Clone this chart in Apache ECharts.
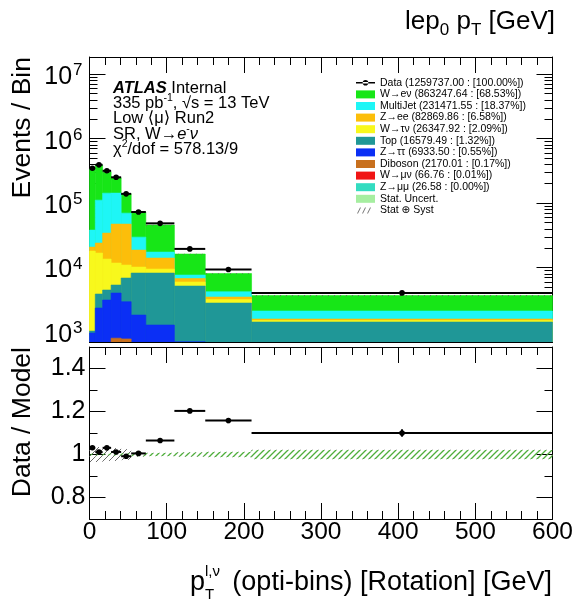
<!DOCTYPE html>
<html>
<head>
<meta charset="utf-8">
<script src="https://cdn.jsdelivr.net/npm/echarts@6/dist/echarts.min.js"></script>
<style>
  html, body { margin: 0; padding: 0; background: #fff; }
  #chart { width: 580px; height: 602px; }
</style>
</head>
<body>
<div id="chart"></div>
<script>
// Bin edges of the optimised lepton-neutrino pT binning [GeV]
const binEdges = [0, 7.5, 17, 28, 41, 54, 73, 110, 150, 210, 600];

// Observed events per bin
const dataEvents = [347100, 392600, 317400, 251500, 139200, 72830, 48550, 19480, 9350, 4045];

// Expected events per bin for each sample
const zmumuEvents    = [2, 3, 3, 4, 4, 3, 3, 2, 1, 1];
const wmunuEvents    = [5, 8, 9, 9, 8, 8, 8, 5, 4, 3];
const dibosonEvents  = [20, 60, 150, 790, 770, 300, 400, 200, 100, 60];
const ztautauEvents  = [938, 2285, 2972, 3221, 2167, 1523, 873, 500, 250, 150];
const topEvents      = [71, 1527, 1345, 1330, 3927, 6382, 6932, 4459, 2460, 1215];
const wtaunuEvents   = [16980, 12900, 9070, 6400, 4060, 1960, 1260, 800, 375, 79];
const zeeEvents      = [2770, 7200, 20700, 35500, 36300, 8490, 4560, 790, 298, 83];
const multijetEvents = [17350, 87300, 108600, 95700, 22700, 11000, 3350, 900, 727, 526];
const wenuEvents     = [298500, 277000, 165000, 105600, 70400, 42800, 28200, 8540, 3860, 1560];

// Relative uncertainties of the prediction
const statSystRel = [0.035, 0.035, 0.03, 0.03, 0.025, 0.01, 0.008, 0.01, 0.013, 0.022];
const statRel     = [0.004, 0.004, 0.004, 0.005, 0.006, 0.008, 0.007, 0.009, 0.012, 0.021];

// Axis tick values
const logMajorTicks   = [1e3, 1e4, 1e5, 1e6, 1e7];
const ratioMajorTicks = [0.8, 1, 1.2, 1.4];
const ratioMinorTicks = [0.9, 1.1, 1.3];

// Legend texts
const dataLabel = 'Data (1259737.00 : [100.00%])';
const statLabel = 'Stat. Uncert.';
const systLabel = 'Stat \u2295 Syst';

const FONT = "'Liberation Sans', Arial, Helvetica, 'DejaVu Sans', sans-serif";

// Stack order: bottom first
const samples = [
  { label: 'Z\u2192\u03bc\u03bc (26.58 : [0.00%])',        color: '#33dcc0', values: zmumuEvents },
  { label: 'W\u2192\u03bc\u03bd (66.76 : [0.01%])',        color: '#f01515', values: wmunuEvents },
  { label: 'Diboson (2170.01 : [0.17%])',                  color: '#c8701e', values: dibosonEvents },
  { label: 'Z\u2192\u03c4\u03c4 (6933.50 : [0.55%])',      color: '#0b2ff5', values: ztautauEvents },
  { label: 'Top (16579.49 : [1.32%])',                     color: '#1f9797', values: topEvents },
  { label: 'W\u2192\u03c4\u03bd (26347.92 : [2.09%])',     color: '#f8f81c', values: wtaunuEvents },
  { label: 'Z\u2192ee (82869.86 : [6.58%])',               color: '#fcbe0a', values: zeeEvents },
  { label: 'MultiJet (231471.55 : [18.37%])',              color: '#1ef6f6', values: multijetEvents },
  { label: 'W\u2192e\u03bd (863247.64 : [68.53%])',        color: '#17e617', values: wenuEvents }
];

const nBins = binEdges.length - 1;

// Cumulative tops of the stack
const cumTops = [];
{
  let run = new Array(nBins).fill(0);
  samples.forEach(s => {
    run = run.map((c, b) => c + s.values[b]);
    cumTops.push(run.slice());
  });
}
const mcTotal = cumTops[cumTops.length - 1];

function hatchPattern(color, step, width) {
  const c = document.createElement('canvas');
  c.width = step; c.height = step;
  const g = c.getContext('2d');
  g.strokeStyle = color;
  g.lineWidth = width;
  g.beginPath();
  g.moveTo(0, step); g.lineTo(step, 0);
  g.moveTo(-2, 2); g.lineTo(2, -2);
  g.moveTo(step - 2, step + 2); g.lineTo(step + 2, step - 2);
  g.stroke();
  return { image: c, repeat: 'repeat' };
}

// Filled bin from the axis floor up to the cumulative top
function renderStackBin(params, api) {
  const a = api.coord([api.value(0), api.value(2)]);
  const b = api.coord([api.value(1), 1]);
  const col = api.visual('color');
  return {
    type: 'rect',
    shape: { x: a[0], y: a[1], width: b[0] - a[0], height: b[1] - a[1] },
    style: { fill: col, stroke: col, lineWidth: 0.6 }
  };
}

// Band between lo and hi
function makeBandRenderer(fill) {
  return function (params, api) {
    const a = api.coord([api.value(0), api.value(3)]);
    const b = api.coord([api.value(1), api.value(2)]);
    return {
      type: 'rect',
      shape: { x: a[0], y: a[1], width: b[0] - a[0], height: Math.max(b[1] - a[1], 0.8) },
      style: { fill: fill }
    };
  };
}

// Data point with horizontal bin bar and vertical error
function renderPoint(params, api) {
  const x0 = api.value(0), x1 = api.value(1), xc = api.value(2), y = api.value(3), e = api.value(4);
  const l = api.coord([x0, y]), r = api.coord([x1, y]), c = api.coord([xc, y]);
  const up = api.coord([xc, y + e]), dn = api.coord([xc, y - e]);
  return {
    type: 'group',
    children: [
      { type: 'line', shape: { x1: l[0], y1: l[1], x2: r[0], y2: r[1] }, style: { stroke: '#000', lineWidth: 2 } },
      { type: 'line', shape: { x1: up[0], y1: up[1], x2: dn[0], y2: dn[1] }, style: { stroke: '#000', lineWidth: 2 } },
      { type: 'circle', shape: { cx: c[0], cy: c[1], r: 2.8 }, style: { fill: '#000' } }
    ]
  };
}

const series = [];

// Stacked predictions, tallest first so lower samples are painted over it
for (let k = samples.length - 1; k >= 0; k--) {
  const items = [];
  for (let b = 0; b < nBins; b++) items.push([binEdges[b], binEdges[b + 1], cumTops[k][b]]);
  series.push({
    type: 'custom', name: samples[k].label, xAxisIndex: 0, yAxisIndex: 0,
    renderItem: renderStackBin, data: items, encode: { x: [0, 1], y: 2 },
    itemStyle: { color: samples[k].color }, clip: true, silent: true, z: 2
  });
}

const systHatch = hatchPattern('#6a6a6a', 6, 1);
const statHatch = hatchPattern('#4fae3c', 6, 1.3);

function bandItems(center, rel) {
  const out = [];
  for (let b = 0; b < nBins; b++) {
    out.push([binEdges[b], binEdges[b + 1], center[b] * (1 - rel[b]), center[b] * (1 + rel[b])]);
  }
  return out;
}

// Uncertainty band on the stack
series.push({
  type: 'custom', name: systLabel, xAxisIndex: 0, yAxisIndex: 0,
  renderItem: makeBandRenderer(systHatch), data: bandItems(mcTotal, statSystRel),
  encode: { x: [0, 1], y: 3 }, itemStyle: { color: '#777' }, clip: true, silent: true, z: 3
});

// Data on the main panel
series.push({
  type: 'custom', name: dataLabel, xAxisIndex: 0, yAxisIndex: 0,
  renderItem: renderPoint,
  data: dataEvents.map((v, b) => [binEdges[b], binEdges[b + 1], (binEdges[b] + binEdges[b + 1]) / 2, v, Math.sqrt(v)]),
  encode: { x: [0, 1], y: 3 }, itemStyle: { color: '#000' }, clip: true, silent: true, z: 5
});

// Ratio panel bands
const ones = new Array(nBins).fill(1);
series.push({
  type: 'custom', name: systLabel, xAxisIndex: 2, yAxisIndex: 4,
  renderItem: makeBandRenderer(systHatch), data: bandItems(ones, statSystRel),
  encode: { x: [0, 1], y: 3 }, itemStyle: { color: '#777' }, clip: true, silent: true, z: 3
});
series.push({
  type: 'custom', name: statLabel, xAxisIndex: 2, yAxisIndex: 4,
  renderItem: makeBandRenderer(statHatch), data: bandItems(ones, statRel),
  encode: { x: [0, 1], y: 3 }, itemStyle: { color: '#a6eea0' }, clip: true, silent: true, z: 4
});

// Data / prediction
series.push({
  type: 'custom', name: dataLabel, xAxisIndex: 2, yAxisIndex: 4,
  renderItem: renderPoint,
  data: dataEvents.map((v, b) => [binEdges[b], binEdges[b + 1], (binEdges[b] + binEdges[b + 1]) / 2,
                                 v / mcTotal[b], Math.sqrt(v) / mcTotal[b]]),
  encode: { x: [0, 1], y: 3 }, itemStyle: { color: '#000' }, clip: true, silent: true, z: 5
});

// Axes
function xAxisDef(grid, pos, withLabels) {
  return {
    type: 'value', gridIndex: grid, position: pos, min: 0, max: 600, interval: 100,
    axisLine: { show: true, onZero: false, lineStyle: { color: '#000', width: 1 } },
    axisTick: { show: true, inside: true, length: 16, lineStyle: { color: '#000', width: 1 } },
    minorTick: { show: true, splitNumber: 5, length: 8, lineStyle: { color: '#000', width: 1 } },
    axisLabel: withLabels
      ? { show: true, fontSize: 24.5, color: '#000', fontFamily: FONT, margin: 1 }
      : { show: false },
    splitLine: { show: false }, minorSplitLine: { show: false }
  };
}

const logMinorTicks = [];
for (let e = 2; e <= 7; e++) for (let m = 2; m <= 9; m++) logMinorTicks.push(m * Math.pow(10, e));

function logAxisDef(pos, ticks, len, withLabels, line) {
  return {
    type: 'log', logBase: 10, gridIndex: 0, position: pos, min: 700, max: 1.85e7,
    axisLine: { show: line, onZero: false, lineStyle: { color: '#000', width: 1 } },
    axisTick: { show: true, inside: true, length: len, customValues: ticks, lineStyle: { color: '#000', width: 1 } },
    axisLabel: withLabels ? {
      show: true, customValues: logMajorTicks, margin: 7, color: '#000', fontFamily: FONT,
      formatter: v => '{b|10}{s|' + Math.round(Math.log10(v)) + '}',
      rich: {
        b: { fontSize: 25, fontFamily: FONT, color: '#000', verticalAlign: 'middle', padding: [6, 0, 0, 0] },
        s: { fontSize: 17, fontFamily: FONT, color: '#000', verticalAlign: 'middle', padding: [0, 0, 7, 1] }
      }
    } : { show: false },
    splitLine: { show: false }
  };
}

function ratioAxisDef(pos, ticks, len, withLabels, line) {
  return {
    type: 'value', gridIndex: 1, position: pos, min: 0.7, max: 1.5,
    axisLine: { show: line, onZero: false, lineStyle: { color: '#000', width: 1 } },
    axisTick: { show: true, inside: true, length: len, customValues: ticks, lineStyle: { color: '#000', width: 1 } },
    axisLabel: withLabels ? {
      show: true, customValues: ratioMajorTicks, margin: 4, fontSize: 25, color: '#000', fontFamily: FONT,
      formatter: v => (Math.abs(v - 1) < 1e-9 ? '1' : v.toFixed(1))
    } : { show: false },
    splitLine: { show: false }
  };
}

const legendData = [
  { name: dataLabel, icon: 'path://M0,0h0.01v0.01h-0.01z M19,8h-0.01v-0.01h0.01z M0,3.3h19v1.4h-19z M6.7,4a2.8,2.8 0 1 0 5.6,0a2.8,2.8 0 1 0 -5.6,0z', itemStyle: { color: '#000' } }
];
for (let k = samples.length - 1; k >= 0; k--) {
  legendData.push({ name: samples[k].label, icon: 'rect', itemStyle: { color: samples[k].color } });
}
legendData.push({ name: statLabel, icon: 'rect', itemStyle: { color: '#a6eea0' } });
legendData.push({
  name: systLabel,
  icon: 'path://M0,0h0.01v0.01h-0.01z M19,8h-0.01v-0.01h0.01z M1,7L4,1L5,1L2,7Z M6,7L9,1L10,1L7,7Z M11,7L14,1L15,1L12,7Z',
  itemStyle: { color: '#777' }
});

const INFO_SIZE = 16.5;
const atlasRich = {
  a: { fontSize: INFO_SIZE, fontFamily: FONT, fontWeight: 'bold', fontStyle: 'italic', color: '#000', verticalAlign: 'middle' },
  sup: { fontSize: 10.5, fontFamily: FONT, color: '#000', verticalAlign: 'middle', padding: [0, 0, 10, 0] },
  it: { fontSize: INFO_SIZE, fontFamily: FONT, color: '#000', fontStyle: 'italic', verticalAlign: 'middle' }
};

function infoText(y, text) {
  return {
    type: 'text', x: 113, y: y, silent: true,
    style: { text: text, fontSize: INFO_SIZE, fontFamily: FONT, fill: '#000', align: 'left', verticalAlign: 'middle', rich: atlasRich }
  };
}

const option = {
  animation: false,
  backgroundColor: '#fff',
  grid: [
    { left: 89.5, top: 57, width: 463, height: 285, containLabel: false },
    { left: 89.5, top: 347, width: 463, height: 172, containLabel: false }
  ],
  xAxis: [
    xAxisDef(0, 'bottom', false),
    xAxisDef(0, 'top', false),
    xAxisDef(1, 'bottom', true),
    xAxisDef(1, 'top', false)
  ],
  yAxis: [
    logAxisDef('left', logMajorTicks, 16, true, true),
    logAxisDef('left', logMinorTicks, 8, false, false),
    logAxisDef('right', logMajorTicks, 16, false, true),
    logAxisDef('right', logMinorTicks, 8, false, false),
    ratioAxisDef('left', ratioMajorTicks, 16, true, true),
    ratioAxisDef('left', ratioMinorTicks, 8, false, false),
    ratioAxisDef('right', ratioMajorTicks, 16, false, true),
    ratioAxisDef('right', ratioMinorTicks, 8, false, false)
  ],
  legend: {
    left: 356, top: 77, orient: 'vertical', itemWidth: 19, itemHeight: 8, itemGap: 0,
    selectedMode: false, padding: 0,
    textStyle: { fontSize: 10.5, fontFamily: FONT, color: '#000', lineHeight: 11.6 },
    data: legendData
  },
  graphic: [
    {
      type: 'text', x: 555, y: 22, silent: true,
      style: {
        text: 'lep{sub|0} p{sub|T} [GeV]', fontSize: 26, fontFamily: FONT, fill: '#000',
        align: 'right', verticalAlign: 'middle',
        rich: { sub: { fontSize: 17, fontFamily: FONT, color: '#000', verticalAlign: 'middle', padding: [16, 0, 0, 0] } }
      }
    },
    {
      type: 'text', x: 23, y: 57, rotation: Math.PI / 2, silent: true,
      style: { text: 'Events / Bin', fontSize: 26.5, fontFamily: FONT, fill: '#000', align: 'right', verticalAlign: 'middle' }
    },
    {
      type: 'text', x: 23, y: 347, rotation: Math.PI / 2, silent: true,
      style: { text: 'Data / Model', fontSize: 26.5, fontFamily: FONT, fill: '#000', align: 'right', verticalAlign: 'middle' }
    },
    infoText(88, '{a|ATLAS} Internal'),
    infoText(103, '335 pb{sup|-1}, \u221as = 13 TeV'),
    infoText(118.5, 'Low \u27e8\u03bc\u27e9 Run2'),
    infoText(134, 'SR, W\u2192{it|e}{sup|-}{it|\u03bd}'),
    infoText(149.5, '\u03c7{sup|2}/dof = 578.13/9'),
    {
      type: 'text', x: 552, y: 583, silent: true,
      style: { text: '(opti-bins) [Rotation] [GeV]', fontSize: 27, fontFamily: FONT, fill: '#000', align: 'right', verticalAlign: 'middle' }
    },
    {
      type: 'text', x: 190, y: 583, silent: true,
      style: { text: 'p', fontSize: 27, fontFamily: FONT, fill: '#000', align: 'left', verticalAlign: 'middle' }
    },
    {
      type: 'text', x: 205, y: 572, silent: true,
      style: { text: 'l,\u03bd', fontSize: 15, fontFamily: FONT, fill: '#000', align: 'left', verticalAlign: 'middle' }
    },
    {
      type: 'text', x: 205, y: 595, silent: true,
      style: { text: 'T', fontSize: 15, fontFamily: FONT, fill: '#000', align: 'left', verticalAlign: 'middle' }
    }
  ],
  series: series
};

const chart = echarts.init(document.getElementById('chart'), null, { renderer: 'canvas' });
chart.setOption(option);
</script>
</body>
</html>
